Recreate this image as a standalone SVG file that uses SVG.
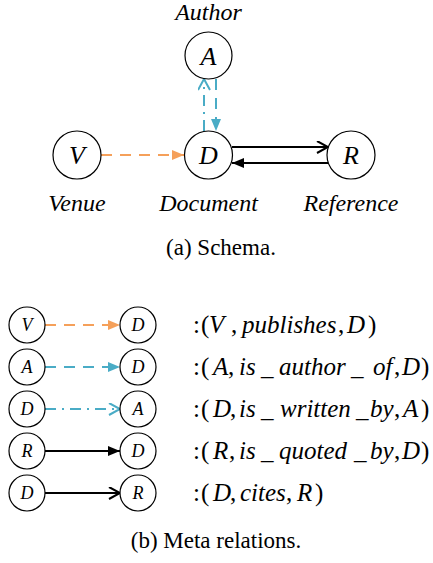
<svg xmlns="http://www.w3.org/2000/svg" width="433" height="563" viewBox="0 0 433 563">
<style>
.c{fill:#fff;stroke:#000;stroke-width:1.2}
.t{font-family:"Liberation Serif","Times New Roman",serif;font-style:italic;text-anchor:middle}
.big{font-size:26px}
.sm{font-size:18px}
.lbl{font-size:24px}
.cap{font-family:"Liberation Serif","Times New Roman",serif;font-size:23px;text-anchor:middle}
.rel{font-family:"Liberation Serif","Times New Roman",serif;font-size:25px}
.i{font-style:italic}
.or{stroke:#F5A05A;stroke-width:2;fill:none;stroke-dasharray:11 8}
.bd{stroke:#4AACC6;stroke-width:2;fill:none;stroke-dasharray:11 8}
.bdd{stroke:#4AACC6;stroke-width:2;fill:none;stroke-dasharray:11 6 2 6}
.bk{stroke:#000;stroke-width:2;fill:none}
</style>
<defs>
<marker id="fo" markerUnits="userSpaceOnUse" markerWidth="14" markerHeight="12" refX="12" refY="5" orient="auto"><path d="M0,0 L12,5 L0,10 Z" fill="#F5A05A"/></marker>
<marker id="fb" markerUnits="userSpaceOnUse" markerWidth="14" markerHeight="12" refX="12" refY="5" orient="auto"><path d="M0,0 L12,5 L0,10 Z" fill="#4AACC6"/></marker>
<marker id="fk" markerUnits="userSpaceOnUse" markerWidth="14" markerHeight="12" refX="12" refY="5" orient="auto"><path d="M0,0 L12,5 L0,10 Z" fill="#000"/></marker>
<marker id="ob" markerUnits="userSpaceOnUse" markerWidth="14" markerHeight="14" refX="12" refY="6" orient="auto"><path d="M1,0 L12,6 L1,12" fill="none" stroke="#4AACC6" stroke-width="2"/></marker>
<marker id="ok" markerUnits="userSpaceOnUse" markerWidth="14" markerHeight="14" refX="12" refY="6" orient="auto"><path d="M1,0 L12,6 L1,12" fill="none" stroke="#000" stroke-width="2"/></marker>
</defs>

<g id="connectors">
<line class="or" x1="101" y1="155" x2="184" y2="155" marker-end="url(#fo)"/>
<line class="bd" x1="216" y1="79" x2="216" y2="131" marker-end="url(#fb)"/>
<line class="bdd" x1="204" y1="131" x2="204" y2="79" marker-end="url(#ob)"/>
<line class="bk" x1="232" y1="147" x2="328" y2="147" marker-end="url(#ok)"/>
<line class="bk" x1="328" y1="163" x2="232" y2="163" marker-end="url(#fk)"/>

<line class="or" x1="45" y1="325" x2="120" y2="325" marker-end="url(#fo)"/>
<line class="bd" x1="45" y1="367" x2="120" y2="367" marker-end="url(#fb)"/>
<line class="bdd" x1="45" y1="409" x2="120" y2="409" marker-end="url(#ob)"/>
<line class="bk" x1="45" y1="451" x2="120" y2="451" marker-end="url(#fk)"/>
<line class="bk" x1="45" y1="493" x2="120" y2="493" marker-end="url(#ok)"/>
</g>

<g id="node-A"><circle class="c" cx="208.5" cy="55.5" r="23.5"/><text class="t big" x="208.5" y="64.5">A</text><text class="t lbl" x="208.5" y="20">Author</text></g>
<g id="node-V"><circle class="c" cx="77" cy="155" r="24"/><text class="t big" x="77" y="164">V</text><text class="t lbl" x="77" y="211">Venue</text></g>
<g id="node-D"><circle class="c" cx="208.5" cy="155" r="24"/><text class="t big" x="208.5" y="164">D</text><text class="t lbl" x="208.5" y="211">Document</text></g>
<g id="node-R"><circle class="c" cx="351" cy="155" r="24"/><text class="t big" x="351" y="164">R</text><text class="t lbl" x="351" y="211">Reference</text></g>
<text class="cap" x="221" y="255">(a) Schema.</text>

<g id="row1"><circle class="c" cx="27" cy="325" r="18"/><text class="t sm" x="27" y="331">V</text><circle class="c" cx="138" cy="325" r="18"/><text class="t sm" x="138" y="331">D</text>
<text class="rel" y="333"><tspan x="193">:</tspan><tspan x="201">(</tspan><tspan class="i" x="209">V</tspan><tspan x="231">,</tspan><tspan class="i" x="242">publishes</tspan><tspan x="338">,</tspan><tspan class="i" x="347">D</tspan><tspan x="368">)</tspan></text></g>
<g id="row2"><circle class="c" cx="27" cy="367" r="18"/><text class="t sm" x="27" y="373">A</text><circle class="c" cx="138" cy="367" r="18"/><text class="t sm" x="138" y="373">D</text>
<text class="rel" y="375"><tspan x="193">:</tspan><tspan x="201">(</tspan><tspan class="i" x="213">A</tspan><tspan x="228">,</tspan><tspan class="i" x="239">is</tspan><tspan x="261">_</tspan><tspan class="i" x="279">author</tspan><tspan x="351">_</tspan><tspan class="i" x="373">of</tspan><tspan x="394">,</tspan><tspan class="i" x="402">D</tspan><tspan x="421">)</tspan></text></g>
<g id="row3"><circle class="c" cx="27" cy="409" r="18"/><text class="t sm" x="27" y="415">D</text><circle class="c" cx="138" cy="409" r="18"/><text class="t sm" x="138" y="415">A</text>
<text class="rel" y="417"><tspan x="193">:</tspan><tspan x="201">(</tspan><tspan class="i" x="213">D</tspan><tspan x="230">,</tspan><tspan class="i" x="239">is</tspan><tspan x="261">_</tspan><tspan class="i" x="280">written</tspan><tspan x="356">_</tspan><tspan class="i" x="370">by</tspan><tspan x="394">,</tspan><tspan class="i" x="403">A</tspan><tspan x="421">)</tspan></text></g>
<g id="row4"><circle class="c" cx="27" cy="451" r="18"/><text class="t sm" x="27" y="457">R</text><circle class="c" cx="138" cy="451" r="18"/><text class="t sm" x="138" y="457">D</text>
<text class="rel" y="459"><tspan x="193">:</tspan><tspan x="201">(</tspan><tspan class="i" x="213">R</tspan><tspan x="229">,</tspan><tspan class="i" x="239">is</tspan><tspan x="261">_</tspan><tspan class="i" x="279">quoted</tspan><tspan x="354">_</tspan><tspan class="i" x="370">by</tspan><tspan x="394">,</tspan><tspan class="i" x="402">D</tspan><tspan x="421">)</tspan></text></g>
<g id="row5"><circle class="c" cx="27" cy="493" r="18"/><text class="t sm" x="27" y="499">D</text><circle class="c" cx="138" cy="493" r="18"/><text class="t sm" x="138" y="499">R</text>
<text class="rel" y="501"><tspan x="193">:</tspan><tspan x="201">(</tspan><tspan class="i" x="213">D</tspan><tspan x="230">,</tspan><tspan class="i" x="240">cites</tspan><tspan x="286">,</tspan><tspan class="i" x="297">R</tspan><tspan x="315">)</tspan></text></g>
<text class="cap" x="216" y="548">(b) Meta relations.</text>
</svg>
